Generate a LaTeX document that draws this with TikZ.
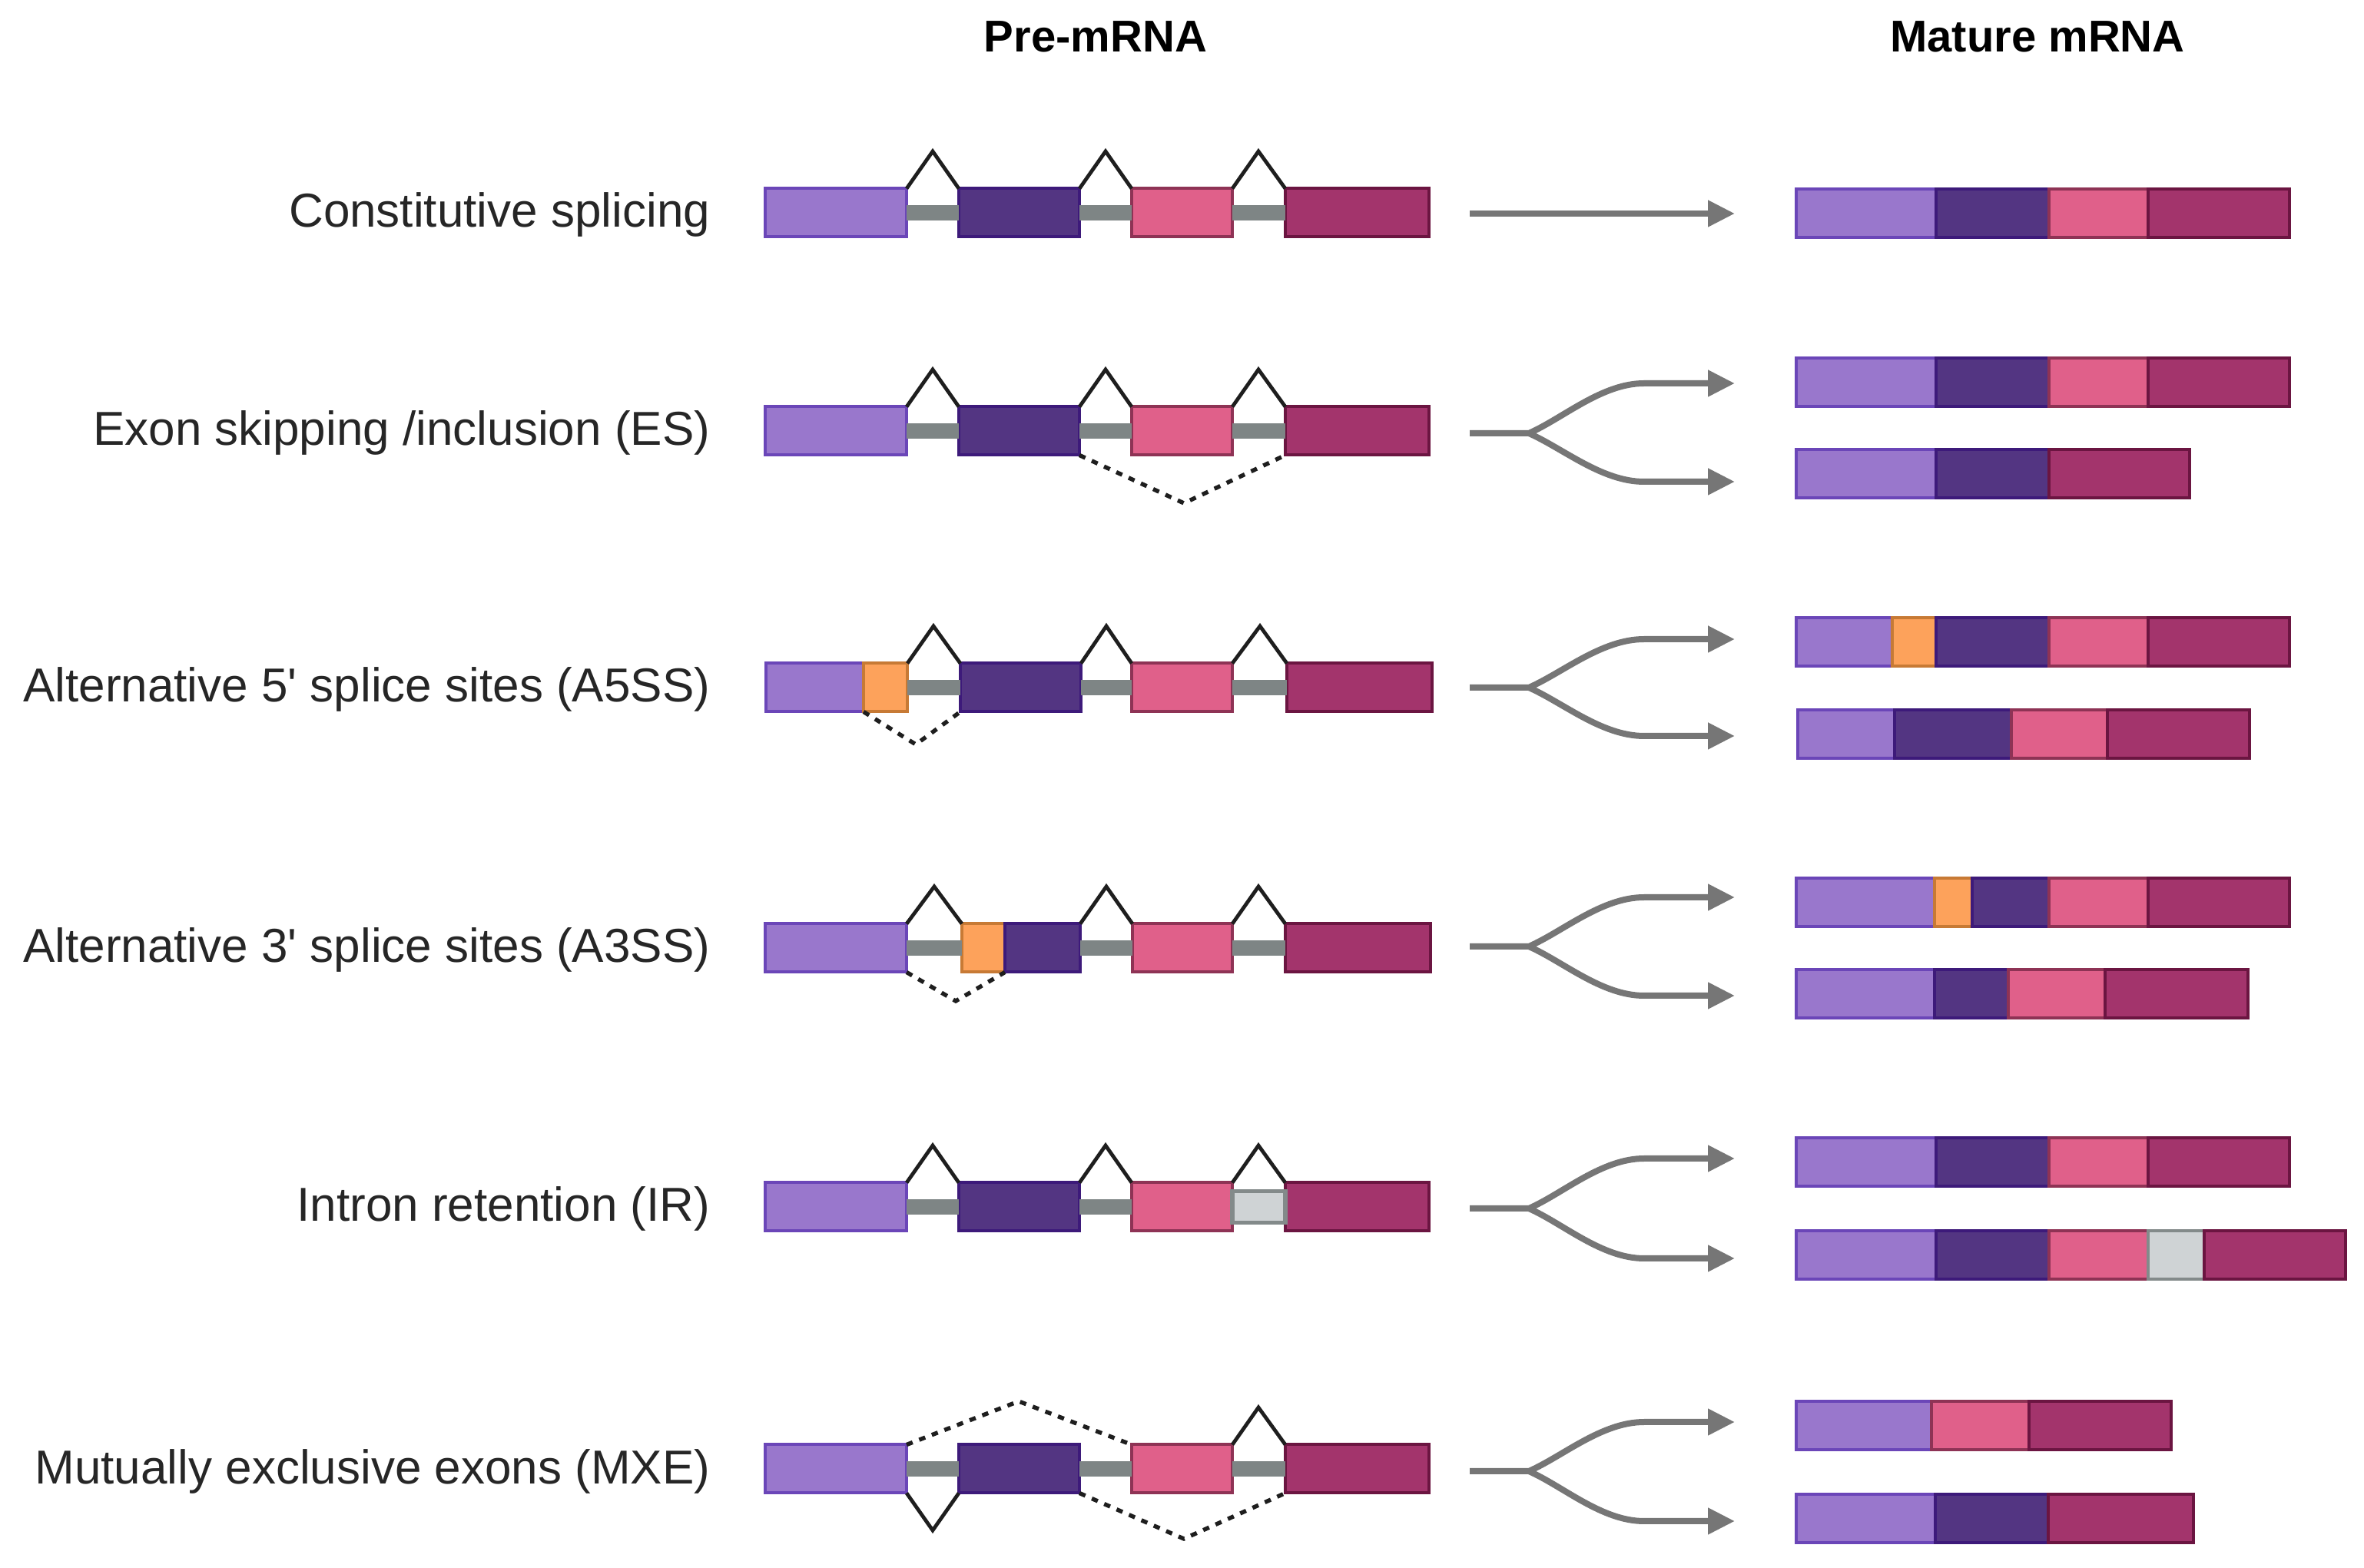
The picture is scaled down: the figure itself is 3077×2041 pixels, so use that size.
\documentclass[tikz,border=0pt]{standalone}
\usepackage{fontspec}
\setmainfont{Liberation Sans}
\usetikzlibrary{arrows.meta}
\definecolor{lpF}{HTML}{9977CC}\definecolor{lpD}{HTML}{6B46B8}
\definecolor{dpF}{HTML}{533582}\definecolor{dpD}{HTML}{3D1A7A}
\definecolor{pkF}{HTML}{E0608A}\definecolor{pkD}{HTML}{8E3355}
\definecolor{mrF}{HTML}{A3346C}\definecolor{mrD}{HTML}{6B1541}
\definecolor{orF}{HTML}{FDA25B}\definecolor{orD}{HTML}{C77A35}
\definecolor{grF}{HTML}{CFD3D5}\definecolor{grD}{HTML}{838A8A}
\definecolor{intronC}{HTML}{7E8585}
\definecolor{spliceC}{HTML}{1E1E1E}
\definecolor{arrowC}{HTML}{767676}
\definecolor{labelC}{HTML}{262626}
\tikzset{
  exon/.style={draw, line width=1pt, inner sep=0pt, outer sep=0pt, minimum height=15.75pt},
  lp/.style={exon, fill=lpF, draw=lpD},
  dp/.style={exon, fill=dpF, draw=dpD},
  pk/.style={exon, fill=pkF, draw=pkD},
  mr/.style={exon, fill=mrF, draw=mrD},
  og/.style={exon, fill=orF, draw=orD},
  gy/.style={exon, fill=grF, draw=grD},
  retained/.style={exon, fill=grF, draw=grD, line width=1.3pt, minimum height=10.25pt},
  intron/.style={draw=intronC, line width=5pt},
  splice/.style={draw=spliceC, line width=1.2pt, line join=miter},
  alt/.style={draw=spliceC, line width=1.35pt, dash pattern=on 2.1pt off 2.3pt},
  flow/.style={draw=arrowC, line width=2pt, -{Triangle[length=8.75pt,width=8.25pt]}},
  lbl/.style={anchor=base east, font=\fontsize{15.5pt}{18pt}\selectfont, text=labelC, inner sep=0pt},
  hdr/.style={anchor=base, font=\fontsize{14.5pt}{17pt}\selectfont\bfseries, inner sep=0pt},
}
\newcommand\ebox[5]{\node[#2, minimum width={(#4-#3)*0.25pt}] (#1) at ({(#3+#4)/2},#5) {};}
\newcommand\fork[4]{% prefix, mid, upper y, lower y
  \coordinate (#1s) at (1913,#2);
  \coordinate (#1k) at (1990,#2);
  \coordinate (#1ub) at (2140,#3);
  \coordinate (#1ut) at (2258,#3);
  \coordinate (#1lb) at (2140,#4);
  \coordinate (#1lt) at (2258,#4);
  \draw[flow] (#1s) -- (#1k) .. controls +(45,-20) and +(-55,0) .. (#1ub) -- (#1ut);
  \draw[flow] (#1k) .. controls +(45,20) and +(-55,0) .. (#1lb) -- (#1lt);
}
\begin{document}
\begin{tikzpicture}[x=0.25pt,y=-0.25pt]
\useasboundingbox (0,0) rectangle (3077,2041);
\fill[white] (0,0) rectangle (3077,2041);

% headers
\node[hdr] (hpre) at (1426,68) {Pre-mRNA};
\node[hdr] (hmat) at (2652,68) {Mature mRNA};

% labels
\node[lbl] (l1) at (925,296) {Constitutive splicing};
\node[lbl] (l2) at (925,580) {Exon skipping /inclusion (ES)};
\node[lbl] (l3) at (925,914) {Alternative 5\textquotesingle{} splice sites (A5SS)};
\node[lbl] (l4) at (925,1253) {Alternative 3\textquotesingle{} splice sites (A3SS)};
\node[lbl] (l5) at (925,1590) {Intron retention (IR)};
\node[lbl] (l6) at (925,1931) {Mutually exclusive exons (MXE)};

%% ---------- Row 1: constitutive ----------
\ebox{a1}{lp}{996}{1180}{277}\ebox{a2}{dp}{1248}{1405}{277}
\ebox{a3}{pk}{1473}{1604}{277}\ebox{a4}{mr}{1673}{1860}{277}
\draw[intron] (a1.east) -- (a2.west);
\draw[intron] (a2.east) -- (a3.west);
\draw[intron] (a3.east) -- (a4.west);
\coordinate (ap1) at (1214,197);\coordinate (ap2) at (1439,197);\coordinate (ap3) at (1638,197);
\draw[splice] (a1.north east) -- (ap1) -- (a2.north west);
\draw[splice] (a2.north east) -- (ap2) -- (a3.north west);
\draw[splice] (a3.north east) -- (ap3) -- (a4.north west);
\coordinate (as) at (1913,278);\coordinate (at) at (2258,278);
\draw[flow] (as) -- (at);
\ebox{am1}{lp}{2338}{2520}{278}\ebox{am2}{dp}{2520}{2667}{278}
\ebox{am3}{pk}{2667}{2796}{278}\ebox{am4}{mr}{2796}{2980}{278}

%% ---------- Row 2: exon skipping ----------
\ebox{b1}{lp}{996}{1180}{561}\ebox{b2}{dp}{1248}{1405}{561}
\ebox{b3}{pk}{1473}{1604}{561}\ebox{b4}{mr}{1673}{1860}{561}
\draw[intron] (b1.east) -- (b2.west);
\draw[intron] (b2.east) -- (b3.west);
\draw[intron] (b3.east) -- (b4.west);
\coordinate (bp1) at (1214,481);\coordinate (bp2) at (1439,481);\coordinate (bp3) at (1638,481);
\draw[splice] (b1.north east) -- (bp1) -- (b2.north west);
\draw[splice] (b2.north east) -- (bp2) -- (b3.north west);
\draw[splice] (b3.north east) -- (bp3) -- (b4.north west);
\coordinate (bd) at (1541,655);
\draw[alt] (b2.south east) -- (bd) -- (b4.south west);
\fork{b}{564}{499}{627}
\ebox{bu1}{lp}{2338}{2520}{498}\ebox{bu2}{dp}{2520}{2667}{498}
\ebox{bu3}{pk}{2667}{2796}{498}\ebox{bu4}{mr}{2796}{2980}{498}
\ebox{bl1}{lp}{2338}{2520}{617}\ebox{bl2}{dp}{2520}{2667}{617}
\ebox{bl3}{mr}{2667}{2850}{617}

%% ---------- Row 3: A5SS ----------
\ebox{c1}{lp}{997}{1124}{895}\ebox{c0}{og}{1124}{1181}{895}
\ebox{c2}{dp}{1250}{1407}{895}\ebox{c3}{pk}{1473}{1604}{895}
\ebox{c4}{mr}{1675}{1864}{895}
\draw[intron] (c0.east) -- (c2.west);
\draw[intron] (c2.east) -- (c3.west);
\draw[intron] (c3.east) -- (c4.west);
\coordinate (cp1) at (1215,815);\coordinate (cp2) at (1440,815);\coordinate (cp3) at (1640,815);
\draw[splice] (c0.north east) -- (cp1) -- (c2.north west);
\draw[splice] (c2.north east) -- (cp2) -- (c3.north west);
\draw[splice] (c3.north east) -- (cp3) -- (c4.north west);
\coordinate (cd) at (1192,969);
\draw[alt] (c0.south west) -- (cd) -- (c2.south west);
\fork{c}{895}{832}{958}
\ebox{cu1}{lp}{2338}{2463}{836}\ebox{cu0}{og}{2463}{2520}{836}
\ebox{cu2}{dp}{2520}{2667}{836}\ebox{cu3}{pk}{2667}{2796}{836}
\ebox{cu4}{mr}{2796}{2980}{836}
\ebox{cl1}{lp}{2340}{2466}{956}\ebox{cl2}{dp}{2466}{2618}{956}
\ebox{cl3}{pk}{2618}{2743}{956}\ebox{cl4}{mr}{2743}{2928}{956}

%% ---------- Row 4: A3SS ----------
\ebox{d1}{lp}{996}{1180}{1234}\ebox{d0}{og}{1252}{1308}{1234}
\ebox{d2}{dp}{1308}{1406}{1234}\ebox{d3}{pk}{1474}{1604}{1234}
\ebox{d4}{mr}{1673}{1862}{1234}
\draw[intron] (d1.east) -- (d0.west);
\draw[intron] (d2.east) -- (d3.west);
\draw[intron] (d3.east) -- (d4.west);
\coordinate (dp1) at (1216,1154);\coordinate (dp2) at (1440,1154);\coordinate (dp3) at (1638,1154);
\draw[splice] (d1.north east) -- (dp1) -- (d0.north west);
\draw[splice] (d2.north east) -- (dp2) -- (d3.north west);
\draw[splice] (d3.north east) -- (dp3) -- (d4.north west);
\coordinate (dd) at (1244,1303);
\draw[alt] (d1.south east) -- (dd) -- (d0.south east);
\fork{d}{1232}{1168}{1296}
\ebox{du1}{lp}{2338}{2518}{1175}\ebox{du0}{og}{2518}{2567}{1175}
\ebox{du2}{dp}{2567}{2667}{1175}\ebox{du3}{pk}{2667}{2796}{1175}
\ebox{du4}{mr}{2796}{2980}{1175}
\ebox{dl1}{lp}{2338}{2518}{1294}\ebox{dl2}{dp}{2518}{2614}{1294}
\ebox{dl3}{pk}{2614}{2740}{1294}\ebox{dl4}{mr}{2740}{2926}{1294}

%% ---------- Row 5: intron retention ----------
\ebox{e1}{lp}{996}{1180}{1571}\ebox{e2}{dp}{1248}{1405}{1571}
\ebox{e3}{pk}{1473}{1604}{1571}\ebox{e4}{mr}{1673}{1860}{1571}
\ebox{e0}{retained}{1604}{1673}{1571}
\draw[intron] (e1.east) -- (e2.west);
\draw[intron] (e2.east) -- (e3.west);
\coordinate (ep1) at (1214,1491);\coordinate (ep2) at (1439,1491);\coordinate (ep3) at (1638,1491);
\draw[splice] (e1.north east) -- (ep1) -- (e2.north west);
\draw[splice] (e2.north east) -- (ep2) -- (e3.north west);
\draw[splice] (e3.north east) -- (ep3) -- (e4.north west);
\fork{e}{1573}{1508}{1638}
\ebox{eu1}{lp}{2338}{2520}{1513}\ebox{eu2}{dp}{2520}{2667}{1513}
\ebox{eu3}{pk}{2667}{2796}{1513}\ebox{eu4}{mr}{2796}{2980}{1513}
\ebox{el1}{lp}{2338}{2520}{1634}\ebox{el2}{dp}{2520}{2667}{1634}
\ebox{el3}{pk}{2667}{2796}{1634}\ebox{el0}{gy}{2796}{2869}{1634}
\ebox{el4}{mr}{2869}{3053}{1634}

%% ---------- Row 6: MXE ----------
\ebox{f1}{lp}{996}{1180}{1912}\ebox{f2}{dp}{1248}{1405}{1912}
\ebox{f3}{pk}{1473}{1604}{1912}\ebox{f4}{mr}{1673}{1860}{1912}
\draw[intron] (f1.east) -- (f2.west);
\draw[intron] (f2.east) -- (f3.west);
\draw[intron] (f3.east) -- (f4.west);
\coordinate (fp1) at (1214,1992);\coordinate (fp3) at (1638,1832);
\draw[splice] (f1.south east) -- (fp1) -- (f2.south west);
\draw[splice] (f3.north east) -- (fp3) -- (f4.north west);
\coordinate (fdu) at (1326,1824);\coordinate (fdl) at (1541,2003);
\draw[alt] (f1.north east) -- (fdu) -- (f3.north west);
\draw[alt] (f2.south east) -- (fdl) -- (f4.south west);
\fork{f}{1915}{1851}{1980}
\ebox{fu1}{lp}{2338}{2514}{1856}\ebox{fu2}{pk}{2514}{2641}{1856}
\ebox{fu3}{mr}{2641}{2826}{1856}
\ebox{fl1}{lp}{2338}{2519}{1977}\ebox{fl2}{dp}{2519}{2666}{1977}
\ebox{fl3}{mr}{2666}{2855}{1977}
\end{tikzpicture}
\end{document}
